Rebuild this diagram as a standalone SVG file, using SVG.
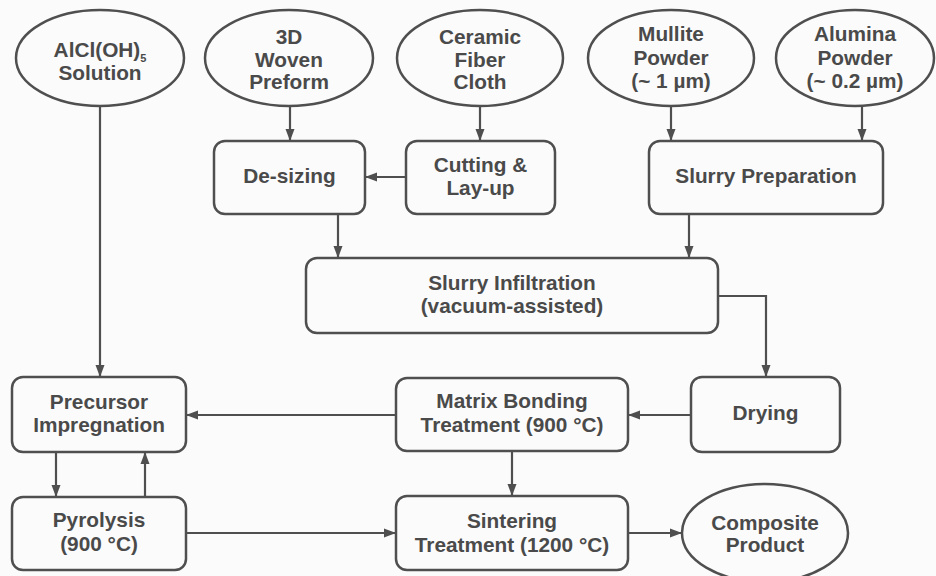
<svg xmlns="http://www.w3.org/2000/svg" width="936" height="576" viewBox="0 0 936 576">
  <defs>
    <marker id="arrow" markerUnits="userSpaceOnUse" markerWidth="12" markerHeight="12" viewBox="0 0 12 12" refX="12" refY="6" orient="auto">
      <path d="M0,1.5 L12,6 L0,10.5 Z" fill="#4f4f4f"/>
    </marker>
    <style>
      .shape { fill: #fbfbfb; stroke: #4f4f4f; stroke-width: 2.5; }
      .label { font-family: "Liberation Sans", Arial, sans-serif; font-weight: bold; font-size: 20.8px; fill: #4a4a4a; text-anchor: middle; }
      .link { fill: none; stroke: #4f4f4f; stroke-width: 2.2; }
      .arrowed { marker-end: url(#arrow); }
    </style>
  </defs>

  <rect width="936" height="576" fill="#fbfbfb"/>

  <!-- Connectors -->
  <g id="connectors">
    <path class="link arrowed" d="M100,107 V377"/>
    <path class="link arrowed" d="M290,107 V141"/>
    <path class="link arrowed" d="M480,107 V141"/>
    <path class="link arrowed" d="M671,107 V141"/>
    <path class="link arrowed" d="M862,107 V141"/>
    <path class="link arrowed" d="M406,177 H365"/>
    <path class="link arrowed" d="M338,214 V258"/>
    <path class="link arrowed" d="M689,213 V258"/>
    <path class="link arrowed" d="M718,296 H766 V377"/>
    <path class="link arrowed" d="M691,415 H628"/>
    <path class="link arrowed" d="M396,415 H186"/>
    <path class="link arrowed" d="M56,452 V497"/>
    <path class="link arrowed" d="M145,497 V452"/>
    <path class="link arrowed" d="M512,451 V496"/>
    <path class="link arrowed" d="M186,533 H396"/>
    <path class="link arrowed" d="M628,533 H682"/>
  </g>

  <!-- Raw materials -->
  <g id="alcl-solution">
    <ellipse class="shape" cx="100" cy="58" rx="84" ry="48"/>
    <text class="label" x="100" y="57">AlCl(OH)<tspan font-size="11" dy="5">5</tspan></text>
    <text class="label" x="100" y="80">Solution</text>
  </g>
  <g id="woven-preform">
    <ellipse class="shape" cx="289" cy="58" rx="84" ry="48"/>
    <text class="label" x="289" y="44">3D</text>
    <text class="label" x="289" y="66.5">Woven</text>
    <text class="label" x="289" y="89">Preform</text>
  </g>
  <g id="fiber-cloth">
    <ellipse class="shape" cx="480" cy="58" rx="83" ry="48"/>
    <text class="label" x="480" y="43.5">Ceramic</text>
    <text class="label" x="480" y="66.5">Fiber</text>
    <text class="label" x="480" y="89">Cloth</text>
  </g>
  <g id="mullite-powder">
    <ellipse class="shape" cx="671" cy="58" rx="83" ry="48"/>
    <text class="label" x="671" y="41">Mullite</text>
    <text class="label" x="671" y="65">Powder</text>
    <text class="label" x="671" y="88">(~ 1 µm)</text>
  </g>
  <g id="alumina-powder">
    <ellipse class="shape" cx="855" cy="58" rx="79" ry="48"/>
    <text class="label" x="855" y="41">Alumina</text>
    <text class="label" x="855" y="65">Powder</text>
    <text class="label" x="855" y="88">(~ 0.2 µm)</text>
  </g>

  <!-- Preparation steps -->
  <g id="de-sizing">
    <rect class="shape" x="214" y="141" width="151" height="73" rx="11"/>
    <text class="label" x="289.5" y="183">De-sizing</text>
  </g>
  <g id="cutting-layup">
    <rect class="shape" x="406" y="141" width="149" height="73" rx="11"/>
    <text class="label" x="480.5" y="172">Cutting &amp;</text>
    <text class="label" x="480.5" y="195">Lay-up</text>
  </g>
  <g id="slurry-preparation">
    <rect class="shape" x="649" y="141" width="234" height="73" rx="11"/>
    <text class="label" x="766" y="183">Slurry Preparation</text>
  </g>
  <g id="slurry-infiltration">
    <rect class="shape" x="306" y="258" width="412" height="75" rx="11"/>
    <text class="label" x="512" y="290">Slurry Infiltration</text>
    <text class="label" x="512" y="313">(vacuum-assisted)</text>
  </g>

  <!-- Processing steps -->
  <g id="precursor-impregnation">
    <rect class="shape" x="12" y="377" width="174" height="75" rx="11"/>
    <text class="label" x="99" y="409">Precursor</text>
    <text class="label" x="99" y="432">Impregnation</text>
  </g>
  <g id="matrix-bonding">
    <rect class="shape" x="396" y="378" width="232" height="73" rx="11"/>
    <text class="label" x="512" y="408">Matrix Bonding</text>
    <text class="label" x="512" y="432">Treatment (900 °C)</text>
  </g>
  <g id="drying">
    <rect class="shape" x="691" y="377" width="149" height="75" rx="11"/>
    <text class="label" x="765.5" y="420">Drying</text>
  </g>
  <g id="pyrolysis">
    <rect class="shape" x="12" y="497" width="174" height="73" rx="11"/>
    <text class="label" x="99" y="527">Pyrolysis</text>
    <text class="label" x="99" y="551">(900 °C)</text>
  </g>
  <g id="sintering">
    <rect class="shape" x="396" y="496" width="232" height="74" rx="11"/>
    <text class="label" x="512" y="528">Sintering</text>
    <text class="label" x="512" y="552">Treatment (1200 °C)</text>
  </g>
  <g id="composite-product">
    <ellipse class="shape" cx="765" cy="533" rx="83" ry="49"/>
    <text class="label" x="765" y="530">Composite</text>
    <text class="label" x="765" y="552">Product</text>
  </g>
</svg>
